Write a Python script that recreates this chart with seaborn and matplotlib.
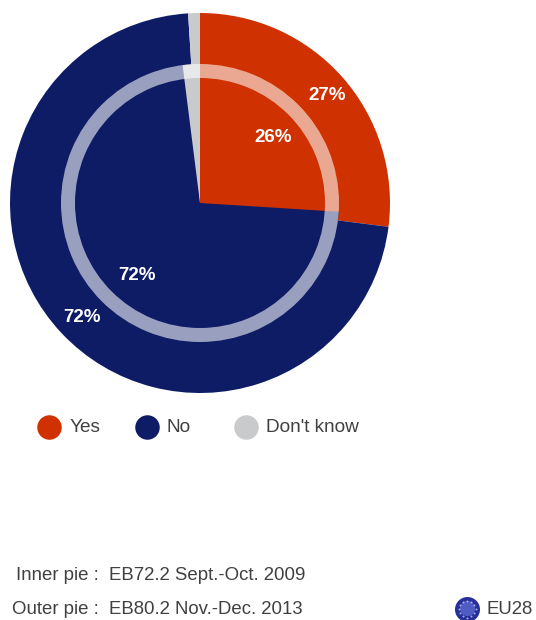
import matplotlib
matplotlib.use("Agg")
import matplotlib.pyplot as plt
import numpy as np
import seaborn as sns

sns.set_theme(style="white")
plt.rcParams["font.family"] = ["Liberation Sans", "DejaVu Sans"]

categories = ["Yes", "No", "Don't know"]
outer_values = [27, 72, 1]
inner_values = [26, 72, 2]
outer_labels = ["27%", "72%"]
inner_labels = ["26%", "72%"]
notes = ["Inner pie :", "Outer pie :"]
surveys = ["EB72.2 Sept.-Oct. 2009", "EB80.2 Nov.-Dec. 2013"]
palette = sns.color_palette(["#cf3200", "#0e1c66", "#c8cacc"])
TEXT = "#404040"

fig = plt.figure(figsize=(5.36, 6.2), dpi=100)
# axes in pixels, y counted up from the bottom of the image
ax = fig.add_axes([0, 0, 1, 1])
CENTER = (200, 417)


def pie(values, radius, colors, **kw):
    ax.pie(values, colors=colors, radius=radius, center=CENTER, startangle=90,
           counterclock=False, frame=True, **kw)


pie(outer_values, 190, palette, wedgeprops={"linewidth": 0})
pie(inner_values, 139, palette, wedgeprops={"linewidth": 0})
# pale ring that separates the two surveys
pie([1], 139, ["white"], wedgeprops={"width": 14, "alpha": 0.58, "linewidth": 0})

ax.set_xlim(0, 536)
ax.set_ylim(0, 620)
ax.set_aspect("equal")
ax.axis("off")

label_style = dict(color="white", fontsize=13.5, fontweight="bold", ha="center", va="center")
ax.text(327, 525, outer_labels[0], **label_style)
ax.text(273, 482, inner_labels[0], **label_style)
ax.text(137, 344, inner_labels[1], **label_style)
ax.text(82, 303, outer_labels[1], **label_style)

# legend
for x, tx, name, color in zip([49, 147, 246], [70, 167, 266], categories, palette):
    ax.scatter([x], [193], s=311, color=color, linewidth=0)
    ax.text(tx, 193, name, color=TEXT, fontsize=13.7, va="center")

# survey notes
for y, note, survey in zip([45, 11], notes, surveys):
    ax.text(99, y, note, color=TEXT, fontsize=13.4, va="center", ha="right")
    ax.text(109, y, survey, color=TEXT, fontsize=13.4, va="center")

# EU marker
ax.scatter([467], [11], s=324, color="#27309a", linewidth=0)
ax.scatter([467], [12], s=120, color="#4f5cc4", linewidth=0)
star_angles = np.linspace(0, 2 * np.pi, 12, endpoint=False)
ax.scatter(467 + 8.5 * np.cos(star_angles), 11 + 8.5 * np.sin(star_angles), s=2,
           color="#aab0dc", linewidth=0)
ax.text(487, 11, "EU28", color=TEXT, fontsize=13.4, va="center")

fig.savefig("out.png", dpi=100)
